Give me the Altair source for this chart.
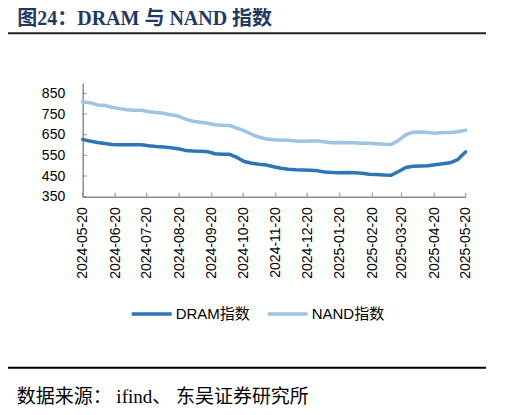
import altair as alt
import pandas as pd

# ---------------- data ----------------
dates = list(pd.date_range("2024-05-20", periods=52, freq="7D")) + [pd.Timestamp("2025-05-20")]
dram = [627, 619, 612, 607, 602, 601, 601, 601, 601, 596,
        593, 591, 587, 582, 574, 571, 570, 568, 558, 555,
        555, 540, 520, 512, 507, 503, 495, 488, 483, 480,
        479, 478, 475, 469, 467, 466, 467, 466, 463, 459,
        457, 455, 454, 472, 491, 497, 499, 500, 505, 509,
        514, 528, 567]
nand = [808, 805, 794, 792, 783, 776, 771, 768, 768, 761,
        757, 754, 746, 740, 725, 715, 710, 705, 698, 696,
        695, 682, 668, 652, 638, 629, 626, 624, 623, 620,
        618, 619, 619, 615, 611, 612, 611, 611, 609, 608,
        606, 604, 603, 622, 650, 662, 663, 660, 657, 660,
        661, 664, 671]
series_names = ["DRAM指数", "NAND指数"]
colors = ["#2E75B6", "#9DC3E6"]
y_ticks = [350, 450, 550, 650, 750, 850]
x_tick_labels = ["2024-05-20", "2024-06-20", "2024-07-20", "2024-08-20", "2024-09-20",
                 "2024-10-20", "2024-11-20", "2024-12-20", "2025-01-20", "2025-02-20",
                 "2025-03-20", "2025-04-20", "2025-05-20"]
title_text = "图24：DRAM 与 NAND 指数"
source_text = "数据来源： ifind、 东吴证券研究所"

# ---------------- layout ----------------
W, H = 383, 113.7
PAD_L, PAD_T = 74.7, 75
AXIS_GRAY = "#8C8C8C"
SANS = "Liberation Sans, Arial, Noto Sans CJK SC"
SERIF = "Liberation Serif, Times New Roman, Noto Sans CJK SC"

df = pd.DataFrame({
    "date": dates + dates,
    "value": dram + nand,
    "series": [series_names[0]] * len(dram) + [series_names[1]] * len(nand),
})

x_dt = [alt.DateTime(year=int(s[:4]), month=int(s[5:7]), date=int(s[8:])) for s in x_tick_labels]
x_scale = alt.Scale(domain=[x_dt[0], x_dt[-1]])
y_scale = alt.Scale(domain=[350, 900], nice=False, zero=False)

x_axis = alt.Axis(values=x_dt, format="%Y-%m-%d", labelAngle=270, labelAlign="right",
                  labelBaseline="middle", labelFontSize=14, labelFont=SANS,
                  labelColor="#000000", tickSize=0, labelPadding=10,
                  domainColor=AXIS_GRAY, domainWidth=1.5, title=None, grid=False,
                  labelOverlap=False, labelFlush=False, labelBound=False)
y_axis = alt.Axis(values=y_ticks, labelFontSize=14, labelFont=SANS, labelColor="#000000",
                  tickSize=0, labelPadding=18, domainColor=AXIS_GRAY, domainWidth=1.5,
                  title=None, grid=False, labelFlush=False, labelOverlap=False,
                  labelBound=False)

lines = alt.Chart(df).mark_line(strokeWidth=3.5, strokeJoin="round", strokeCap="round").encode(
    x=alt.X("date:T", scale=x_scale, axis=x_axis),
    y=alt.Y("value:Q", scale=y_scale, axis=y_axis),
    color=alt.Color("series:N",
                    scale=alt.Scale(domain=series_names, range=colors),
                    legend=alt.Legend(orient="none", legendX=47, legendY=209,
                                      direction="horizontal", title=None,
                                      symbolType="stroke", symbolSize=1600,
                                      symbolStrokeWidth=3.5, labelFontSize=15,
                                      labelFont=SANS, labelColor="#000000",
                                      columnPadding=10, labelOffset=2, padding=0)),
)

# inside tick marks
yt = pd.DataFrame({"v": y_ticks})
y_tick_rules = alt.Chart(yt).mark_rule(color=AXIS_GRAY, strokeWidth=1).encode(
    y=alt.Y("v:Q", scale=y_scale, axis=y_axis), x=alt.value(0), x2=alt.value(4)
)
xt = pd.DataFrame({"d": pd.to_datetime(x_tick_labels)})
x_tick_rules = alt.Chart(xt).mark_rule(color=AXIS_GRAY, strokeWidth=1).encode(
    x=alt.X("d:T", scale=x_scale, axis=x_axis), y=alt.value(H), y2=alt.value(H - 4)
)

# title, separators, source
title_mark = alt.Chart(pd.DataFrame({"t": [title_text]})).mark_text(
    font=SERIF, fontSize=20, fontWeight="bold", color="#1F3864", align="left", baseline="top"
).encode(text="t:N", x=alt.value(17.3 - 8 - PAD_L), y=alt.value(8.5 - 8 - PAD_T))

top_rule = alt.Chart(pd.DataFrame({"a": [0]})).mark_rule(color="#222222", strokeWidth=2).encode(
    x=alt.value(5 - 8 - PAD_L), x2=alt.value(503 - 8 - PAD_L), y=alt.value(33.3 - 8 - PAD_T)
)
bottom_rule = alt.Chart(pd.DataFrame({"a": [0]})).mark_rule(color="#000000", strokeWidth=2).encode(
    x=alt.value(5 - 8 - PAD_L), x2=alt.value(503 - 8 - PAD_L), y=alt.value(367.7 - 8 - PAD_T)
)
source_mark = alt.Chart(pd.DataFrame({"t": [source_text]})).mark_text(
    font=SERIF, fontSize=19, color="#000000", align="left", baseline="middle"
).encode(text="t:N", x=alt.value(16.7 - 8 - PAD_L), y=alt.value(397 - 8 - PAD_T))

chart = alt.layer(
    lines, y_tick_rules, x_tick_rules, title_mark, top_rule, bottom_rule, source_mark
).properties(
    width=W, height=H,
    autosize=alt.AutoSizeParams(type="none"),
    padding={"left": PAD_L, "top": PAD_T, "right": 20, "bottom": 399 - PAD_T - H},
).configure_view(stroke=None)

chart.save("out.html", embed_options={"renderer": "svg", "actions": False})
